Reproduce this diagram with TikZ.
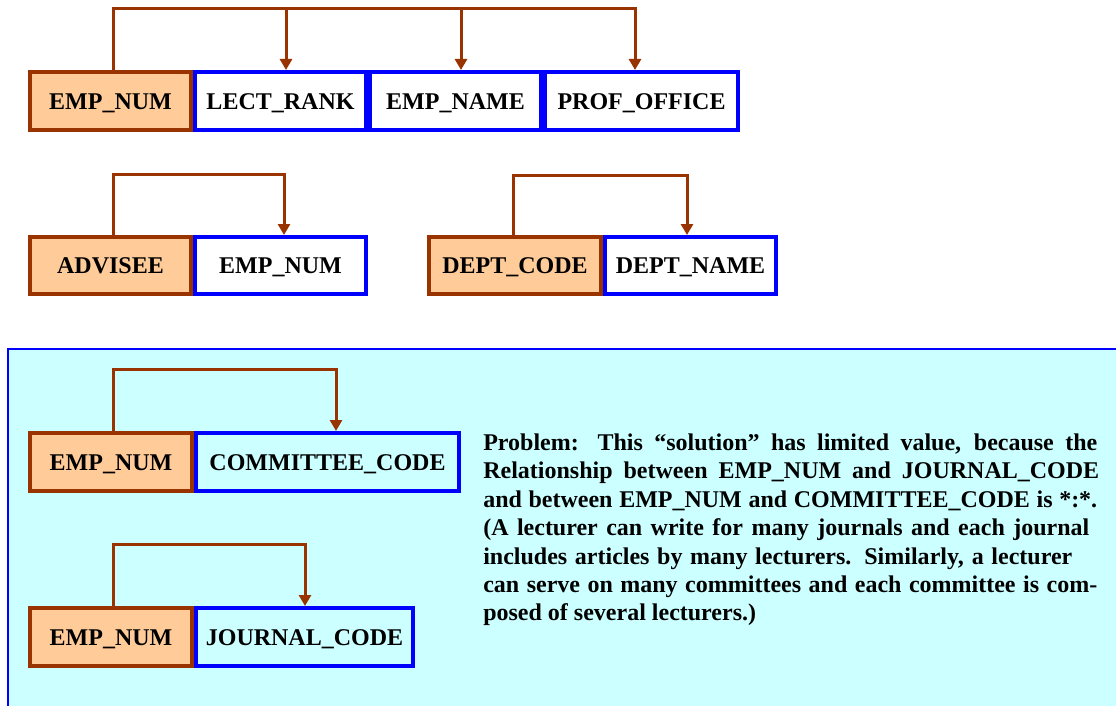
\documentclass[tikz,border=0pt]{standalone}
\usepackage{fontspec}
\setmainfont{Liberation Serif}
\usetikzlibrary{arrows.meta}
\definecolor{keyfill}{HTML}{FFCC99}
\definecolor{keyline}{HTML}{993300}
\definecolor{attrline}{HTML}{0000FF}
\definecolor{notefill}{HTML}{CCFFFF}
\tikzset{
  lbl/.style={font=\bfseries\fontsize{18}{21}\selectfont, inner sep=0pt},
  keybox/.style={lbl, rectangle, draw=keyline, fill=keyfill, line width=3pt,
    text height=12.2pt, text depth=0pt},
  attrbox/.style={lbl, rectangle, draw=attrline, line width=3pt,
    text height=12.2pt, text depth=0pt},
  toprow/.style={minimum height=43.5pt},
  midrow/.style={minimum height=42.75pt},
  link/.style={draw=keyline, line width=2.25pt, line join=miter},
  linkarrow/.style={link, -{Triangle[length=8.25pt,width=9pt]}},
  noteline/.style={lbl, anchor=base west},
}
\begin{document}
\begin{tikzpicture}[x=0.75pt, y=-0.75pt]
\useasboundingbox (0,0) rectangle (1116,706);

% shaded note area at the bottom
\fill[notefill] (8,349) rectangle (1116,706);
\draw[attrline, line width=1.5pt] (1116,349) -- (8,349) -- (8,706);

% lecturer relation
\node[attrbox, toprow, fill=white, minimum width=128.25pt] (a1) at (280.5,101) {LECT\_RANK};
\node[attrbox, toprow, fill=white, minimum width=128.25pt] (a2) at (455.5,101) {EMP\_NAME};
\node[attrbox, toprow, fill=white, minimum width=144.75pt] (a3) at (641.5,101) {PROF\_OFFICE};
\node[keybox, toprow, minimum width=120.75pt] (k1) at (110.5,101) {EMP\_NUM};

% advisee relation
\node[attrbox, midrow, fill=white, minimum width=128.25pt] (a4) at (280.5,265.5) {EMP\_NUM};
\node[keybox, midrow, minimum width=120.75pt] (k2) at (110.5,265.5) {ADVISEE};

% department relation
\node[attrbox, midrow, fill=white, minimum width=128.25pt] (a5) at (690.5,265.5) {DEPT\_NAME};
\node[keybox, midrow, minimum width=129pt] (k3) at (515,265.5) {DEPT\_CODE};

% committee relation
\node[attrbox, toprow, minimum width=197.25pt] (a6) at (327.5,462) {COMMITTEE\_CODE};
\node[keybox, toprow, minimum width=121.5pt] (k4) at (111,462) {EMP\_NUM};

% journal relation
\node[attrbox, toprow, minimum width=162.75pt] (a7) at (304.5,637) {JOURNAL\_CODE};
\node[keybox, toprow, minimum width=121.5pt] (k5) at (111,637) {EMP\_NUM};

% dependency arrows
\coordinate (t0) at (113,9);
\coordinate (t1) at (286,9);
\coordinate (t2) at (461,9);
\coordinate (t3) at (635,9);
\draw[linkarrow] (k1.north -| t0) -- (t0) -- (t3) -- (a3.north -| t3);
\draw[linkarrow] (t1) -- (a1.north -| t1);
\draw[linkarrow] (t2) -- (a2.north -| t2);

\coordinate (u0) at (113,174);
\coordinate (u1) at (284,174);
\draw[linkarrow] (k2.north -| u0) -- (u0) -- (u1) -- (a4.north -| u1);

\coordinate (v0) at (513,175);
\coordinate (v1) at (687,175);
\draw[linkarrow] (k3.north -| v0) -- (v0) -- (v1) -- (a5.north -| v1);

\coordinate (w0) at (113,369);
\coordinate (w1) at (336,369);
\draw[linkarrow] (k4.north -| w0) -- (w0) -- (w1) -- (a6.north -| w1);

\coordinate (z0) at (113,544);
\coordinate (z1) at (305,544);
\draw[linkarrow] (k5.north -| z0) -- (z0) -- (z1) -- (a7.north -| z1);

% explanatory note
\node[noteline] (p1) at (483,450) {\makebox[460.5pt][s]{Problem: This “solution” has limited value, because the}};
\node[noteline] (p2) at (483,478.5) {\makebox[462pt][s]{Relationship between EMP\_NUM and JOURNAL\_CODE}};
\node[noteline] (p3) at (483,507) {\makebox[460.5pt][s]{and between EMP\_NUM and COMMITTEE\_CODE is *:*.}};
\node[noteline] (p4) at (483,535.5) {\makebox[454.5pt][s]{(A lecturer can write for many journals and each journal}};
\node[noteline] (p5) at (483,564) {\makebox[441.75pt][s]{includes articles by many lecturers. Similarly, a lecturer}};
\node[noteline] (p6) at (483,592) {\makebox[460.5pt][s]{can serve on many committees and each committee is com-}};
\node[noteline] (p7) at (483,620.5) {posed of several lecturers.)};
\end{tikzpicture}
\end{document}
